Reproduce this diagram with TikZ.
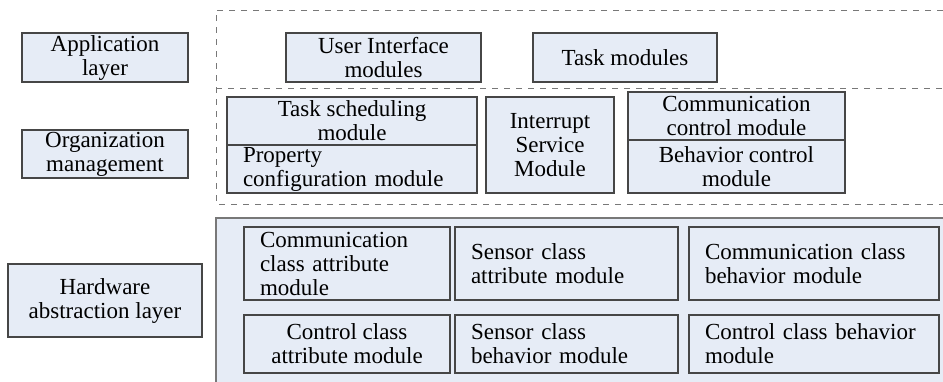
\documentclass[tikz,border=0pt]{standalone}
\usepackage{fontspec}
\setmainfont{Liberation Serif}
\definecolor{boxfill}{RGB}{230,236,246}
\definecolor{boxline}{RGB}{70,70,70}
\definecolor{dashline}{RGB}{120,120,120}
\begin{document}
\begin{tikzpicture}[x=0.5pt,y=-0.5pt,
    every node/.style={font=\fontsize{11.5}{12}\selectfont},
    box/.style={draw=boxline,fill=boxfill,line width=0.6pt,inner sep=0pt,align=center},
    lbox/.style={box,align=left,inner xsep=8pt},
    layer/.style={draw=dashline,dashed,line width=0.5pt}]
    \useasboundingbox (0,0) rectangle (943,381);
    % layer frames
    \draw [layer] (943,10) -- (216,10) -- (216,204) -- (943,204);
    \draw [layer] (216,88) -- (943,88);
    \fill [boxfill] (216,218) rectangle (950,390);
    \draw [draw=dashline,line width=1pt] (950,218) -- (216,218) -- (216,390);
    % layer names
    \node [box,minimum width=83pt,minimum height=24.5pt] (app) at (105,57.5) {Application\\layer};
    \node [box,minimum width=83pt,minimum height=24pt] (org) at (105,154) {Organization\\management};
    \node [box,minimum width=97pt,minimum height=36.5pt] (hal) at (105,300.5) {Hardware\\abstraction layer};
    % application layer
    \node [box,minimum width=97.5pt,minimum height=24.5pt] (ui) at (383.5,57.5) {User Interface\\modules};
    \node [box,minimum width=92pt,minimum height=24.5pt] (task) at (625,57.5) {Task modules};
    % organization management
    \node [box,minimum width=125pt,minimum height=24pt] (sched) at (352,121) {Task scheduling\\module};
    \node [lbox,text width=109pt,minimum height=24pt] (prop) at (352,169) {Property\\configuration module};
    \node [box,minimum width=64pt,minimum height=48pt] (isr) at (550,145) {Interrupt\\Service\\Module};
    \node [box,minimum width=108.5pt,minimum height=24pt] (comm) at (736.5,116) {Communication\\control module};
    \node [box,minimum width=108.5pt,minimum height=26.5pt] (beh) at (736.5,166.5) {Behavior control\\module};
    % hardware abstraction layer
    \node [lbox,text width=87pt,minimum height=36.5pt] (cca) at (347,263.5) {Communication\\class attribute\\module};
    \node [box,minimum width=103pt,minimum height=29pt] (cta) at (347,344) {Control class\\attribute module};
    \node [lbox,text width=95.5pt,minimum height=36.5pt] (sca) at (566.5,263.5) {Sensor class\\attribute module};
    \node [lbox,text width=95.5pt,minimum height=29pt] (scb) at (566.5,344) {Sensor class\\behavior module};
    \node [lbox,text width=109pt,minimum height=36.5pt] (ccb) at (814,263.5) {Communication class\\behavior module};
    \node [lbox,text width=109pt,minimum height=29pt] (ctb) at (814,344) {Control class behavior\\module};
\end{tikzpicture}
\end{document}
